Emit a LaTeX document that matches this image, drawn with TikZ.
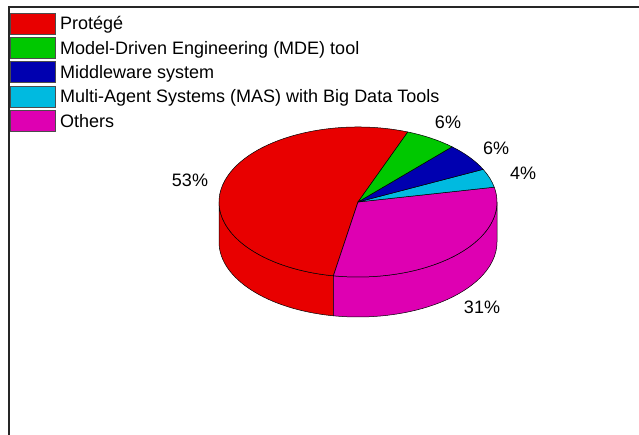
\documentclass[tikz,border=0pt]{standalone}
\usepackage{fontspec}
\setmainfont{Liberation Sans}
\definecolor{cRed}{RGB}{232,0,0}
\definecolor{cGreen}{RGB}{0,200,0}
\definecolor{cBlue}{RGB}{0,0,176}
\definecolor{cCyan}{RGB}{0,186,224}
\definecolor{cMag}{RGB}{222,0,178}
\tikzset{
  lbl/.style={font=\fontsize{18}{21}\selectfont, inner sep=0pt},
  swatch/.style={draw=black!70, line width=0.6pt},
  slice/.style={draw=black, line width=0.5pt, line join=round},
  ell/.style={x radius=139pt, y radius=75pt},
}
\begin{document}
\begin{tikzpicture}[x=1pt,y=1pt]
\useasboundingbox (0,0) rectangle (639,435);
% frame
\draw[line width=2pt, black!85] (8.5,0) -- (8.5,428) -- (639,428);
% legend
\foreach \c/\t [count=\i from 0] in {cRed/Protégé, cGreen/Model-Driven Engineering (MDE) tool, cBlue/Middleware system, cCyan/Multi-Agent Systems (MAS) with Big Data Tools, cMag/Others}{
  \pgfmathsetmacro{\yt}{422-24.3*\i}
  \fill[\c, swatch] (10.5,\yt) rectangle (55,\yt-21);
  \node[lbl, anchor=base west] (leg\i) at (60,\yt-17) {\t};
}
% pie
\coordinate (C) at (358,233);
% sides
\fill[cRed, slice] ([shift={(C)}]180:139pt and 75pt) arc[start angle=180, end angle=259.8, ell]
  -- ++(0,-40) arc[start angle=259.8, end angle=180, ell] -- cycle;
\fill[cMag, slice] ([shift={(C)}]259.8:139pt and 75pt) arc[start angle=259.8, end angle=360, ell]
  -- ++(0,-40) arc[start angle=360, end angle=259.8, ell] -- cycle;
% tops
\foreach \c/\a/\b in {cRed/69/259.8, cMag/259.8/371.4, cCyan/11.4/25.8, cBlue/25.8/47.4, cGreen/47.4/69}{
  \fill[\c, slice] (C) -- ([shift={(C)}]\a:139pt and 75pt) arc[start angle=\a, end angle=\b, ell] -- cycle;
}
% labels
\node[lbl] (p53) at (190,255) {53\%};
\node[lbl] (p6a) at (448,313) {6\%};
\node[lbl] (p6b) at (496,287) {6\%};
\node[lbl] (p4) at (523,262) {4\%};
\node[lbl] (p31) at (482,128) {31\%};
\end{tikzpicture}
\end{document}
